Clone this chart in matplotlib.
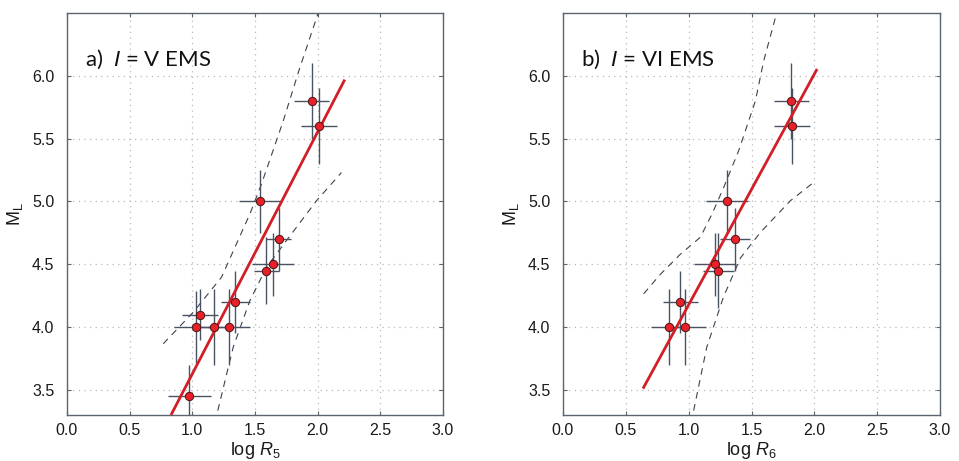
import matplotlib
matplotlib.use("Agg")
import matplotlib.pyplot as plt

plt.rcParams['font.family'] = ['Liberation Sans', 'DejaVu Sans']
plt.rcParams['mathtext.fontset'] = 'custom'
plt.rcParams['mathtext.rm'] = 'Liberation Sans'
plt.rcParams['mathtext.it'] = 'Liberation Sans:italic'

# ---- panel a) I = V EMS ----
x5 = [1.951, 2.011, 1.543, 1.690, 1.643, 1.590, 1.342, 1.063, 1.026, 1.172, 1.292, 0.977]
y5 = [5.80, 5.60, 5.00, 4.70, 4.50, 4.45, 4.20, 4.10, 4.00, 4.00, 4.00, 3.45]
xerr5 = [0.14, 0.14, 0.17, 0.10, 0.165, 0.10, 0.117, 0.144, 0.17, 0.15, 0.167, 0.17]
yerr5 = [0.30, 0.30, 0.25, 0.25, 0.25, 0.27, 0.25, 0.20, 0.29, 0.30, 0.30, 0.25]
fit5_x = [0.835, 2.211]
fit5_y = [3.31, 5.96]
ub5_x = [0.768, 1.007, 1.233, 1.459, 1.552, 1.725, 1.858, 1.991, 2.02]
ub5_y = [3.867, 4.118, 4.397, 4.90, 5.139, 5.64, 6.066, 6.46, 6.55]
lb5_x = [1.18, 1.326, 1.459, 1.592, 1.752, 1.991, 2.19]
lb5_y = [3.24, 3.84, 4.21, 4.476, 4.69, 5.006, 5.23]

# ---- panel b) I = VI EMS ----
x6 = [1.818, 1.823, 1.303, 1.369, 1.210, 1.237, 0.934, 0.841, 0.971]
y6 = [5.80, 5.60, 5.00, 4.70, 4.50, 4.45, 4.20, 4.00, 4.00]
xerr6 = [0.14, 0.14, 0.166, 0.117, 0.17, 0.12, 0.138, 0.14, 0.17]
yerr6 = [0.30, 0.30, 0.25, 0.25, 0.25, 0.30, 0.25, 0.30, 0.30]
fit6_x = [0.642, 2.017]
fit6_y = [3.52, 6.045]
ub6_x = [0.642, 0.775, 0.934, 1.093, 1.186, 1.279, 1.398, 1.531, 1.597, 1.701, 1.72]
ub6_y = [4.265, 4.42, 4.58, 4.715, 4.90, 5.112, 5.404, 5.80, 6.119, 6.503, 6.56]
lb6_x = [1.02, 1.144, 1.277, 1.412, 1.571, 1.81, 1.995]
lb6_y = [3.24, 3.84, 4.24, 4.55, 4.754, 5.006, 5.152]

xticks = [0.0, 0.5, 1.0, 1.5, 2.0, 2.5, 3.0]
yticks = [3.5, 4.0, 4.5, 5.0, 5.5, 6.0]

fig = plt.figure(figsize=(9.59, 4.61), dpi=100)
ax1 = fig.add_axes([67/959, 46/461, 376/959, 402/461])
ax2 = fig.add_axes([563/959, 46/461, 377/959, 402/461])

err_c = '#4a5361'
red = '#d21f26'
dash_c = '#3a4350'
spine_c = '#5b6470'

panels = [
    (ax1, x5, y5, xerr5, yerr5, fit5_x, fit5_y, ub5_x, ub5_y, lb5_x, lb5_y,
     r'a)  $\mathit{I}$ = V EMS', r'log $\mathit{R}_5$'),
    (ax2, x6, y6, xerr6, yerr6, fit6_x, fit6_y, ub6_x, ub6_y, lb6_x, lb6_y,
     r'b)  $\mathit{I}$ = VI EMS', r'log $\mathit{R}_6$'),
]

for (ax, x, y, xe, ye, fx, fy, ux, uy, lx, ly, title, xlabel) in panels:
    ax.set_xlim(0, 3.0)
    ax.set_ylim(3.3, 6.5)
    ax.set_xticks(xticks)
    ax.set_yticks(yticks)
    ax.set_xticklabels([f'{v:.1f}' for v in xticks])
    ax.set_yticklabels([f'{v:.1f}' for v in yticks])
    ax.grid(True, color='#b8b8b8', linestyle=(0, (1, 3.5)), linewidth=0.9)
    ax.set_axisbelow(True)
    for s in ax.spines.values():
        s.set_color(spine_c)
        s.set_linewidth(1.0)
    ax.tick_params(direction='in', length=3, width=0.8, color=spine_c,
                   top=True, right=True, labelsize=11.5, pad=6,
                   labelcolor='#1a1a1a')
    ax.tick_params(axis='y', pad=9)

    ax.plot(ux, uy, color=dash_c, linewidth=0.8, linestyle=(0, (6, 5)), zorder=2)
    ax.plot(lx, ly, color=dash_c, linewidth=0.8, linestyle=(0, (6, 5)), zorder=2)
    ax.errorbar(x, y, xerr=xe, yerr=ye, fmt='none', ecolor=err_c,
                elinewidth=1.0, capsize=0, zorder=3)
    ax.plot(fx, fy, color=red, linewidth=2.0, zorder=4)
    ax.plot(x, y, 'o', markersize=6, markerfacecolor='#e8202a',
            markeredgecolor='#4a1515', markeredgewidth=0.7, zorder=5,
            linestyle='none')

    ax.text(0.048, 0.868, title, transform=ax.transAxes, fontsize=16,
            family=['Lato', 'DejaVu Sans'], color='#111111', va='baseline')
    ax.set_xlabel(xlabel, fontsize=13, labelpad=1, color='#1a1a1a')
    ax.set_ylabel(r'M$_\mathrm{L}$', fontsize=13, labelpad=5, color='#1a1a1a')

fig.savefig('out.png', dpi=100)
